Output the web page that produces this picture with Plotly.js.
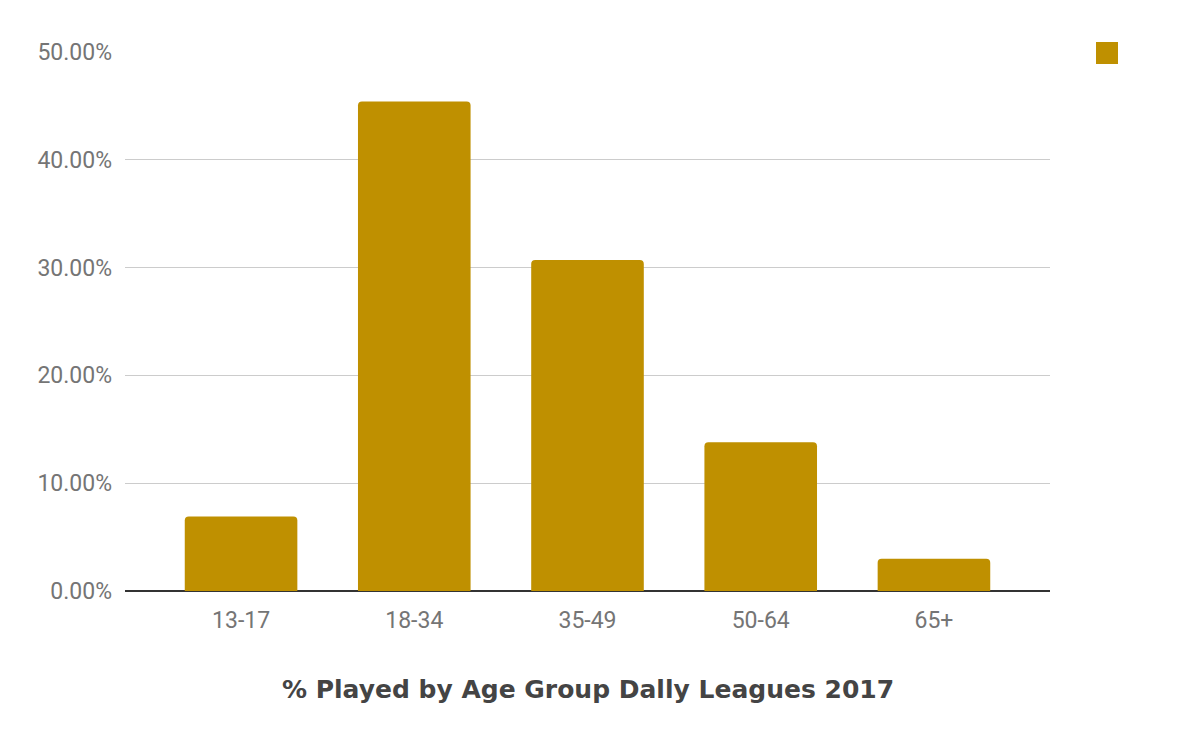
<!DOCTYPE html>
<html>
<head>
<meta charset="utf-8">
<script src="https://cdn.plot.ly/plotly-3.0.1.min.js"></script>
<style>html,body{margin:0;padding:0;background:#fff;}#chart{width:1200px;height:742px;}</style>
</head>
<body>
<div id="chart"></div>
<script>
const categories = ["13-17", "18-34", "35-49", "50-64", "65+"];
const values = [6.92, 45.4, 30.7, 13.8, 3.0];
const yTicks = [0, 10, 20, 30, 40, 50];
const yTickLabels = ["0.00%", "10.00%", "20.00%", "30.00%", "40.00%", "50.00%"];
const chartTitle = "% Played by Age Group Dally Leagues 2017";
const barColor = "#bf9000";

const trace = {
  type: "bar",
  x: categories,
  y: values,
  marker: {color: barColor, cornerradius: 4},
  hoverinfo: "x+y",
  showlegend: false
};

const layout = {
  width: 1200,
  height: 742,
  paper_bgcolor: "#ffffff",
  plot_bgcolor: "#ffffff",
  margin: {l: 125, r: 150, t: 52, b: 151, pad: 0},
  bargap: 0.35,
  title: {
    text: chartTitle,
    font: {family: "DejaVu Sans", size: 25, color: "#444444", weight: "bold"},
    x: 0.49, xref: "container", xanchor: "center",
    y: 1 - 689/742, yref: "container", yanchor: "middle"
  },
  xaxis: {
    type: "category",
    range: [-0.67, 4.67],
    showgrid: false,
    showline: false,
    zeroline: false,
    ticks: "",
    ticklabelstandoff: 13,
    tickfont: {family: "Roboto", size: 23, color: "#757575"}
  },
  yaxis: {
    range: [0, 50],
    tickvals: yTicks,
    ticktext: yTickLabels,
    showgrid: true,
    gridcolor: "#cccccc",
    gridwidth: 1,
    zeroline: true,
    zerolinecolor: "#333333",
    zerolinewidth: 2,
    showline: false,
    ticks: "",
    ticklabelstandoff: 12,
    tickfont: {family: "Roboto", size: 23, color: "#757575"}
  },
  shapes: [{
    type: "rect", xref: "paper", yref: "paper",
    x0: (1096-125)/925, x1: (1118-125)/925,
    y0: (590-41)/539, y1: (590-63)/539,
    fillcolor: barColor, line: {width: 0}
  }]
};

Plotly.newPlot("chart", [trace], layout, {displayModeBar: false, responsive: false});
</script>
</body>
</html>
